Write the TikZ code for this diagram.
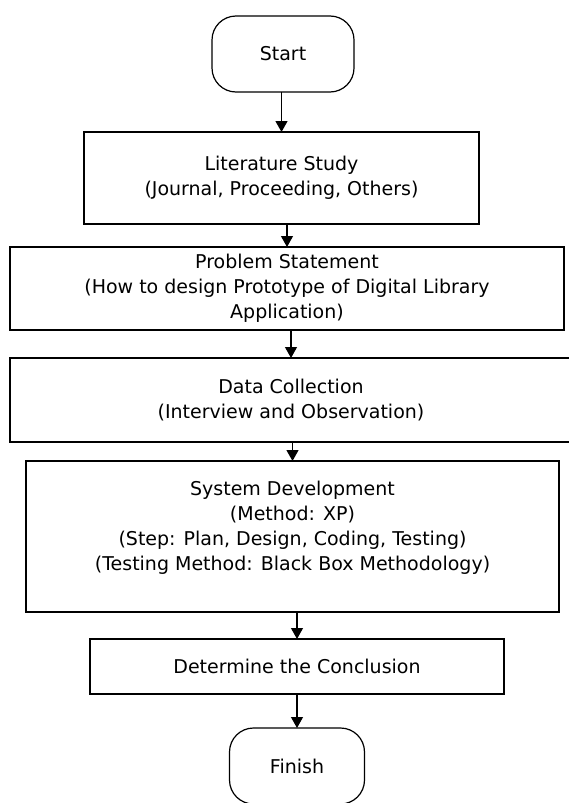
\documentclass[tikz,border=0pt]{standalone}
\usepackage{fontspec}
\setmainfont{DejaVu Sans}
\usepackage{tikz}
\usetikzlibrary{positioning}
\usetikzlibrary{arrows.meta}

\begin{document}
\begin{tikzpicture}[x=1pt, y=1pt,
    font=\fontsize{19}{25}\selectfont,
    box/.style={draw, line width=1.2pt, align=center, inner sep=0pt, outer sep=0pt},
    term/.style={box, rounded corners=24pt, minimum width=142pt, minimum height=76pt},
    arr/.style={line width=1.2pt, -{Triangle[width=12pt, length=11pt]}}]
    \useasboundingbox (0,0) rectangle (568,-803);

    \node[term] (start) at (283,-54) {Start};
    \node[box, minimum width=395pt, minimum height=92pt] (lit) [below = 40pt of start, xshift=-1.5pt] {Literature Study\\(Journal, Proceeding, Others)};
    \node[box, minimum width=554pt, minimum height=83pt] (prob) [below = 23pt of lit, xshift=5.5pt] {Problem Statement\\(How to design Prototype of Digital Library\\Application)};
    \node[box, minimum width=562pt, minimum height=84pt] (data) [below = 28pt of prob, xshift=4pt] {Data Collection\\(Interview and Observation)};
    \node[box, minimum width=533pt, minimum height=151pt] (sysdev) [below = 19pt of data, xshift=1.5pt] {System Development\\(Method: XP)\\(Step: Plan, Design, Coding, Testing)\\(Testing Method: Black Box Methodology)\\[-12pt]\strut};
    \node[box, minimum width=414pt, minimum height=55pt] (concl) [below = 27pt of sysdev, xshift=4.5pt] {Determine the Conclusion};
    \node[term, minimum width=135pt] (finish) [below = 34pt of concl] {Finish};

    \draw[arr] (lit.north |- start.south) -- (lit.north);
    \draw[arr] (prob.north |- lit.south) -- (prob.north);
    \draw[arr] (data.north |- prob.south) -- (data.north);
    \draw[arr] (sysdev.north |- data.south) -- (sysdev.north);
    \draw[arr] (concl.north |- sysdev.south) -- (concl.north);
    \draw[arr] (finish.north |- concl.south) -- (finish.north);
\end{tikzpicture}
\end{document}
